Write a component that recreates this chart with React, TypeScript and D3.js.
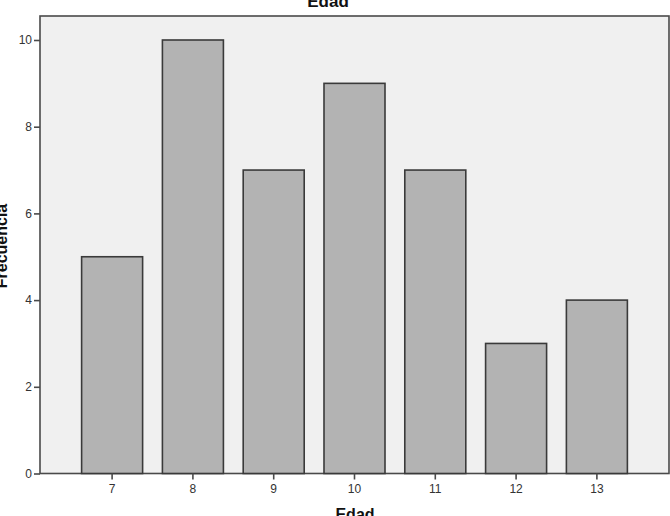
import * as d3 from "d3";
import { useEffect, useRef } from "react";

const ages = ["7", "8", "9", "10", "11", "12", "13"];
const counts = [5, 10, 7, 9, 7, 3, 4];
const yTicks = [0, 2, 4, 6, 8, 10];

const W = 670;
const H = 516;
const FONT = "Liberation Sans, Arial, sans-serif";

export default function App() {
  const ref = useRef<SVGSVGElement | null>(null);

  useEffect(() => {
    const host = ref.current;
    if (!host) return;
    const svg = d3.select(host);
    svg.selectAll("*").remove();

    const left = 40;
    const right = 669;
    const top = 16;
    const bottom = 473.5;

    const x = d3.scaleBand<string>().domain(ages).range([left, right]).paddingInner(0.245).paddingOuter(0.515);
    const y = d3.scaleLinear().domain([0, 10]).range([bottom, 40]);

    // plot frame
    svg.append("rect")
      .attr("x", left)
      .attr("y", top)
      .attr("width", right - left)
      .attr("height", bottom - top)
      .attr("fill", "#f0f0f0")
      .attr("stroke", "#4a4a4a")
      .attr("stroke-width", 1.6);

    svg.append("g")
      .selectAll("rect")
      .data(counts)
      .enter()
      .append("rect")
      .attr("x", (_, i) => x(ages[i]) as number)
      .attr("y", (d) => y(d))
      .attr("width", x.bandwidth())
      .attr("height", (d) => bottom - y(d))
      .attr("fill", "#b3b3b3")
      .attr("stroke", "#3a3a3a")
      .attr("stroke-width", 1.6);

    const yAxis = svg.append("g")
      .attr("transform", `translate(${left},0)`)
      .call(d3.axisLeft(y).tickValues(yTicks).tickSize(6).tickPadding(2).tickFormat(d3.format("d")));
    yAxis.select(".domain").remove();
    yAxis.selectAll("line").attr("stroke", "#4a4a4a").attr("stroke-width", 1.6);
    yAxis.selectAll("text")
      .attr("fill", "#333")
      .attr("font-size", 12)
      .attr("font-family", FONT);

    const xAxis = svg.append("g")
      .attr("transform", `translate(0,${bottom})`)
      .call(d3.axisBottom(x).tickSize(6).tickPadding(5));
    xAxis.select(".domain").remove();
    xAxis.selectAll("line").attr("stroke", "#4a4a4a").attr("stroke-width", 1.6);
    xAxis.selectAll("text")
      .attr("fill", "#333")
      .attr("font-size", 12)
      .attr("font-family", FONT);

    const label = (t: string, size: number) =>
      svg.append("text")
        .attr("text-anchor", "middle")
        .attr("font-size", size)
        .attr("font-weight", "bold")
        .attr("font-family", FONT)
        .attr("fill", "#111")
        .text(t);

    label("Edad", 17).attr("x", 328).attr("y", 7);
    label("Edad", 16).attr("x", 355).attr("y", 520);
    label("Frecuencia", 16).attr("transform", "translate(7,246) rotate(-90)");
  }, []);

  return (
    <svg
      ref={ref}
      width={W}
      height={H}
      viewBox={`0 0 ${W} ${H}`}
      style={{ position: "absolute", left: 0, top: 0, background: "#fff", display: "block" }}
    />
  );
}
